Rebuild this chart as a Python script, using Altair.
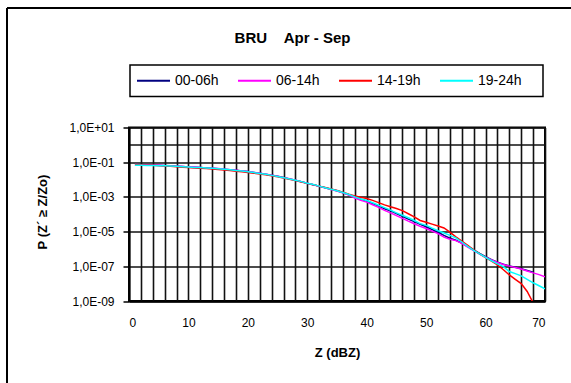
import altair as alt
import pandas as pd

FONT = "Liberation Sans, Arial, sans-serif"

series_names = ["00-06h", "06-14h", "14-19h", "19-24h"]
series_colors = ["#000080", "#FF00FF", "#FF0000", "#00FFFF"]

# Z (dBZ) values of each series
z_00_06 = list(range(1, 69))
z_06_14 = list(range(1, 71))
z_14_19 = list(range(1, 69))
z_19_24 = list(range(1, 71))

# log10 of P(Z' >= Z/Zo)
logp_00_06 = [-1.14, -1.15, -1.16, -1.17, -1.18, -1.19, -1.21, -1.23, -1.25, -1.27,
              -1.29, -1.31, -1.33, -1.35, -1.38, -1.41, -1.44, -1.47, -1.50, -1.54,
              -1.59, -1.64, -1.69, -1.75, -1.81, -1.88, -1.96, -2.04, -2.12, -2.21,
              -2.30, -2.38, -2.47, -2.56, -2.65, -2.76, -2.88, -3.02, -3.14, -3.24,
              -3.38, -3.52, -3.68, -3.80, -3.96, -4.12, -4.28, -4.42, -4.58, -4.72,
              -4.88, -5.04, -5.22, -5.38, -5.50, -5.66, -5.86, -6.06, -6.26, -6.44,
              -6.62, -6.76, -6.88, -6.98, -7.06, -7.14, -7.24, -7.34]
logp_06_14 = [-1.13, -1.14, -1.15, -1.17, -1.18, -1.20, -1.21, -1.23, -1.25, -1.27,
              -1.28, -1.30, -1.33, -1.35, -1.37, -1.40, -1.44, -1.47, -1.50, -1.54,
              -1.59, -1.64, -1.69, -1.75, -1.81, -1.89, -1.96, -2.04, -2.13, -2.21,
              -2.30, -2.39, -2.48, -2.57, -2.66, -2.77, -2.90, -3.06, -3.20, -3.30,
              -3.45, -3.60, -3.78, -3.92, -4.08, -4.24, -4.40, -4.55, -4.70, -4.82,
              -4.97, -5.12, -5.32, -5.44, -5.52, -5.68, -5.90, -6.10, -6.30, -6.48,
              -6.64, -6.78, -6.90, -6.99, -7.07, -7.16, -7.27, -7.38, -7.48, -7.60]
logp_14_19 = [-1.15, -1.16, -1.17, -1.18, -1.20, -1.22, -1.24, -1.26, -1.29, -1.31,
              -1.33, -1.35, -1.37, -1.39, -1.42, -1.45, -1.48, -1.52, -1.55, -1.59,
              -1.63, -1.68, -1.73, -1.78, -1.84, -1.91, -1.98, -2.06, -2.14, -2.22,
              -2.30, -2.38, -2.46, -2.54, -2.63, -2.73, -2.84, -2.94, -3.02, -3.09,
              -3.20, -3.33, -3.46, -3.57, -3.67, -3.79, -3.97, -4.15, -4.36, -4.46,
              -4.57, -4.68, -4.79, -5.03, -5.30, -5.55, -5.80, -6.05, -6.28, -6.50,
              -6.70, -6.92, -7.20, -7.50, -7.75, -8.00, -8.45, -9.10]
logp_19_24 = [-1.18, -1.18, -1.19, -1.19, -1.20, -1.21, -1.22, -1.24, -1.26, -1.28,
              -1.30, -1.31, -1.33, -1.35, -1.38, -1.41, -1.44, -1.48, -1.51, -1.55,
              -1.60, -1.65, -1.70, -1.76, -1.82, -1.89, -1.97, -2.04, -2.12, -2.21,
              -2.29, -2.38, -2.47, -2.56, -2.65, -2.75, -2.86, -3.00, -3.12, -3.21,
              -3.34, -3.48, -3.62, -3.76, -3.92, -4.06, -4.20, -4.36, -4.54, -4.64,
              -4.80, -4.95, -5.08, -5.22, -5.36, -5.60, -5.85, -6.08, -6.28, -6.48,
              -6.68, -6.86, -7.02, -7.30, -7.42, -7.55, -7.75, -7.95, -8.12, -8.30]

x_ticks = list(range(0, 71, 2))
y_ticks = [1e1, 1e0, 1e-1, 1e-3, 1e-5, 1e-7, 1e-9]

rows = []
for name, zs, lp in zip(series_names,
                        [z_00_06, z_06_14, z_14_19, z_19_24],
                        [logp_00_06, logp_06_14, logp_14_19, logp_19_24]):
    for zz, v in zip(zs, lp):
        rows.append({"Z": zz, "P": 10 ** v, "series": name})
df = pd.DataFrame(rows)

W, H = 416, 173.5

lines = alt.Chart(df).mark_line(strokeWidth=1.5, clip=True).encode(
    x=alt.X("Z:Q",
            scale=alt.Scale(domain=[0, 70], nice=False, zero=False),
            axis=alt.Axis(values=x_ticks,
                          labelExpr="datum.value % 10 == 0 ? datum.label : ''",
                          title="Z (dBZ)", ticks=False, labelPadding=16,
                          titleY=51, titleBaseline="middle")),
    y=alt.Y("P:Q",
            scale=alt.Scale(type="log", domain=[1e-9, 1e1], nice=False),
            axis=alt.Axis(values=y_ticks,
                          labelExpr="datum.value == 1 ? '' : '1,0E' + (log(datum.value)/LN10 >= -0.5 ? '+' : '-') + pad(toString(abs(round(log(datum.value)/LN10))), 2, '0', 'left')",
                          title="P (Z\u00b4 \u2265 Z/Zo)",
                          tickSize=6,
                          tickOpacity={"condition": {"test": "datum.value == 1", "value": 0}, "value": 1},
                          labelPadding=9,
                          titleX=-87, titleY=84, titleAlign="center", titleBaseline="middle",
                          titleAngle=-90)),
    color=alt.Color("series:N",
                    scale=alt.Scale(domain=series_names, range=series_colors),
                    legend=alt.Legend(title=None, orient="none", legendX=-1, legendY=-72.5,
                                      direction="horizontal", columns=4,
                                      symbolType="stroke", symbolSize=1089,
                                      symbolStrokeWidth=2, labelFontSize=14,
                                      labelOffset=4, columnPadding=15, padding=8,
                                      labelFont=FONT, labelColor="#000")),
)

one = pd.DataFrame({"k": [0]})
frame_top = alt.Chart(one).mark_rule(color="#000", strokeWidth=2).encode(
    x=alt.value(-122), x2=alt.value(460), y=alt.value(-119.5))
frame_left = alt.Chart(one).mark_rule(color="#000", strokeWidth=2).encode(
    x=alt.value(-122), y=alt.value(-119.5), y2=alt.value(270))
legend_box = alt.Chart(one).mark_rect(fillOpacity=0, stroke="#000", strokeWidth=1.5).encode(
    x=alt.value(1), x2=alt.value(414), y=alt.value(-62.5), y2=alt.value(-31))

chart = alt.layer(frame_top, frame_left, legend_box, lines).properties(
    width=W, height=H,
    autosize=alt.AutoSizeParams(type="none"),
    padding={"left": 129, "top": 127.5, "right": 26, "bottom": 82},
    background="white",
    title=alt.TitleParams("BRU\u00a0\u00a0\u00a0\u00a0Apr - Sep", font=FONT, fontSize=15,
                          fontWeight="bold", color="#000", anchor="middle",
                          dx=-44.5, dy=43),
).configure_axis(
    labelFont=FONT, labelFontSize=12, labelColor="#000",
    titleFont=FONT, titleFontSize=13, titleFontWeight="bold", titleColor="#000",
    gridColor="#111", gridWidth=1.6, gridOpacity=1,
    domainColor="#000", domainWidth=2, tickColor="#000", tickWidth=1.5,
).configure_view(stroke="#000", strokeWidth=2)

chart.save("out.html", embed_options={"renderer": "svg", "actions": False})
